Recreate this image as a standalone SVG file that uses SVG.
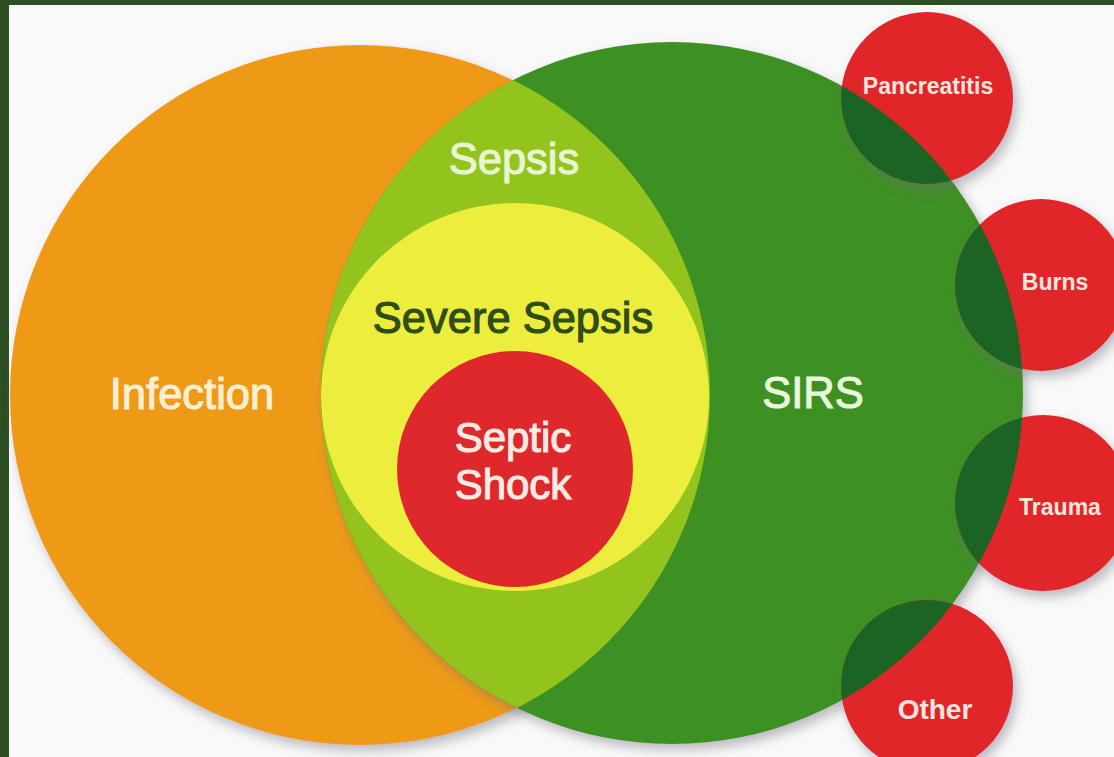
<svg xmlns="http://www.w3.org/2000/svg" width="1114" height="757" viewBox="0 0 1114 757">
<style>
.lbl{font-family:"Liberation Sans",Arial,sans-serif;text-anchor:middle}
.big{font-size:43.5px;stroke-width:1.1px}
.small{font-size:23px;font-weight:bold;fill:#fbe6df}
</style>
<defs>
<filter id="sh" x="-20%" y="-20%" width="140%" height="140%">
<feDropShadow dx="4" dy="6" stdDeviation="6" flood-color="#6a6a7a" flood-opacity="0.45"/>
</filter>
<clipPath id="sirsClip"><circle cx="672" cy="393" r="351"/></clipPath>
<clipPath id="infClip"><circle cx="360" cy="395" r="350"/></clipPath>
</defs>
<rect x="0" y="0" width="1114" height="757" fill="#f9f9f9"/>
<rect x="0" y="0" width="1114" height="5" fill="#2d4f24"/>
<rect x="0" y="0" width="9" height="757" fill="#2d4f24"/>

<g id="infection">
<circle cx="360" cy="395" r="350" fill="#ee9a19" filter="url(#sh)"/>
</g>
<g id="sirs">
<circle cx="672" cy="393" r="351" fill="#3e9021" filter="url(#sh)"/>
</g>
<g id="sepsis">
<g clip-path="url(#sirsClip)"><circle cx="360" cy="395" r="350" fill="#93c41d"/></g>
</g>
<g id="severe-sepsis">
<g clip-path="url(#sirsClip)"><g clip-path="url(#infClip)"><circle cx="515" cy="397" r="194" fill="#eded3e"/></g></g>
</g>
<g id="septic-shock">
<circle cx="515" cy="469" r="118" fill="#de282b"/>
</g>

<g id="pancreatitis">
<circle cx="927" cy="98" r="86" fill="#e1282a" filter="url(#sh)"/>
<g clip-path="url(#sirsClip)"><circle cx="927" cy="98" r="86" fill="#1c6424"/></g>
<text class="lbl small" x="928" y="94">Pancreatitis</text>
</g>
<g id="burns">
<circle cx="1041" cy="285" r="86" fill="#e1282a" filter="url(#sh)"/>
<g clip-path="url(#sirsClip)"><circle cx="1041" cy="285" r="86" fill="#1c6424"/></g>
<text class="lbl small" x="1055" y="290">Burns</text>
</g>
<g id="trauma">
<circle cx="1043" cy="503" r="88" fill="#e1282a" filter="url(#sh)"/>
<g clip-path="url(#sirsClip)"><circle cx="1043" cy="503" r="88" fill="#1c6424"/></g>
<text class="lbl small" x="1060" y="515">Trauma</text>
</g>
<g id="other">
<circle cx="927" cy="686" r="86" fill="#e1282a" filter="url(#sh)"/>
<g clip-path="url(#sirsClip)"><circle cx="927" cy="686" r="86" fill="#1c6424"/></g>
<text class="lbl small" x="935" y="719" style="font-size:28px">Other</text>
</g>

<g id="labels">
<text class="lbl big" x="192" y="409" fill="#fcefd2" stroke="#fcefd2">Infection</text>
<text class="lbl big" x="813" y="408" fill="#e9f7dc" stroke="#e9f7dc">SIRS</text>
<text class="lbl big" x="514" y="174" fill="#e9f5d2" stroke="#e9f5d2">Sepsis</text>
<text class="lbl big" x="513" y="333" fill="#2f4d16" stroke="#2f4d16">Severe Sepsis</text>
<text class="lbl big" x="513" y="452" fill="#fdebe3" stroke="#fdebe3" style="font-size:42px">Septic</text>
<text class="lbl big" x="513" y="499" fill="#fdebe3" stroke="#fdebe3" style="font-size:42px">Shock</text>
</g>
</svg>
